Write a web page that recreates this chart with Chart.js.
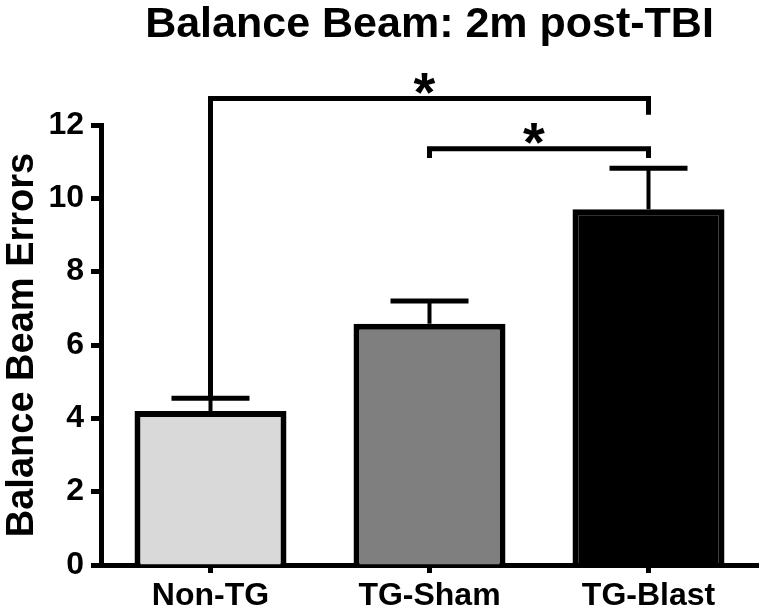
<!DOCTYPE html>
<html>
<head>
<meta charset="utf-8">
<script src="https://cdn.jsdelivr.net/npm/chart.js@4"></script>
<style>
  html, body { margin: 0; padding: 0; background: #fff; }
  #wrap { width: 764px; height: 613px; }
</style>
</head>
<body>
<div id="wrap"><canvas id="beamChart" width="764" height="613"></canvas></div>
<script>
// datos
const categories = ['Non-TG', 'TG-Sham', 'TG-Blast'];
const meanErrors = [4.2, 6.58, 9.7];
const semErrors = [0.35, 0.62, 1.12];
const yTicks = [0, 2, 4, 6, 8, 10, 12];

// comparaciones significativas: [desde, hasta], altura y extremo de cada brazo
const bracketPairs = [[0, 2], [1, 2]];
const bracketLevels = [12.72, 11.35];
const bracketLeftEnds = [4.55, 11.1];
const bracketRightEnds = [12.28, 11.1];
const bracketMarks = ['*', '*'];

const barFills = ['#d9d9d9', '#7f7f7f', '#000000'];
const FONT = '"Liberation Sans", Arial, sans-serif';

const extrasPlugin = {
    id: 'extras',
    afterDatasetsDraw(chart) {
        const ctx = chart.ctx;
        const x = chart.scales.x;
        const y = chart.scales.y;
        ctx.save();
        ctx.strokeStyle = '#000';
        ctx.lineCap = 'butt';

        // barras de error (solo hacia arriba)
        meanErrors.forEach((m, i) => {
            const cx = x.getPixelForValue(i);
            const yTop = y.getPixelForValue(m + semErrors[i]);
            const yBar = y.getPixelForValue(m);
            ctx.lineWidth = 4;
            ctx.beginPath();
            ctx.moveTo(cx, yBar);
            ctx.lineTo(cx, yTop);
            ctx.stroke();
            ctx.lineWidth = 5;
            ctx.beginPath();
            ctx.moveTo(cx - 39, yTop);
            ctx.lineTo(cx + 39, yTop);
            ctx.stroke();
        });

        // corchetes de significancia
        bracketPairs.forEach((pair, k) => {
            const x1 = x.getPixelForValue(pair[0]);
            const x2 = x.getPixelForValue(pair[1]);
            const yl = y.getPixelForValue(bracketLevels[k]);
            ctx.lineWidth = 5;
            ctx.beginPath();
            ctx.moveTo(x1, y.getPixelForValue(bracketLeftEnds[k]));
            ctx.lineTo(x1, yl);
            ctx.lineTo(x2, yl);
            ctx.lineTo(x2, y.getPixelForValue(bracketRightEnds[k]));
            ctx.stroke();
            ctx.fillStyle = '#000';
            ctx.font = 'bold 56px ' + FONT;
            ctx.textAlign = 'center';
            ctx.textBaseline = 'alphabetic';
            ctx.fillText(bracketMarks[k], (x1 + x2) / 2 - 5, yl + 12);
        });
        ctx.restore();
    }
};

const ctx = document.getElementById('beamChart').getContext('2d');
new Chart(ctx, {
    type: 'bar',
    data: {
        labels: categories,
        datasets: [{
            data: meanErrors,
            backgroundColor: barFills,
            borderColor: '#000',
            borderWidth: 6,
            borderSkipped: 'bottom',
            barPercentage: 0.694,
            categoryPercentage: 1.0
        }]
    },
    options: {
        responsive: false,
        animation: false,
        devicePixelRatio: 1,
        layout: { padding: { left: 0, right: 6, top: 0, bottom: 0 } },
        plugins: {
            legend: { display: false },
            tooltip: { enabled: false },
            title: {
                display: true,
                fullSize: false,
                text: 'Balance Beam: 2m post-TBI',
                color: '#000',
                font: { family: FONT, size: 43, weight: 'bold', lineHeight: 1 },
                padding: { top: 4, bottom: 78 }
            }
        },
        scales: {
            x: {
                grid: { display: true, offset: false, drawOnChartArea: false, tickLength: 8, tickWidth: 5, tickColor: '#000' },
                border: { display: true, color: '#000', width: 5 },
                ticks: { color: '#000', padding: 4, font: { family: FONT, size: 32, weight: 'bold' } },
                afterFit(scale) { scale.height = 48; }
            },
            y: {
                min: 0,
                max: 12,
                afterBuildTicks(scale) { scale.ticks = yTicks.map(v => ({ value: v })); },
                grid: { display: true, drawOnChartArea: false, tickLength: 10, tickWidth: 5, tickColor: '#000' },
                border: { display: true, color: '#000', width: 5 },
                ticks: { color: '#000', padding: 7, font: { family: FONT, size: 32, weight: 'bold' } },
                title: {
                    display: true,
                    text: 'Balance Beam Errors',
                    color: '#000',
                    font: { family: FONT, size: 38, weight: 'bold', lineHeight: 1 },
                    padding: { top: 4, bottom: 0 }
                },
                afterFit(scale) { scale.width = 101; }
            }
        }
    },
    plugins: [extrasPlugin]
});
</script>
</body>
</html>
